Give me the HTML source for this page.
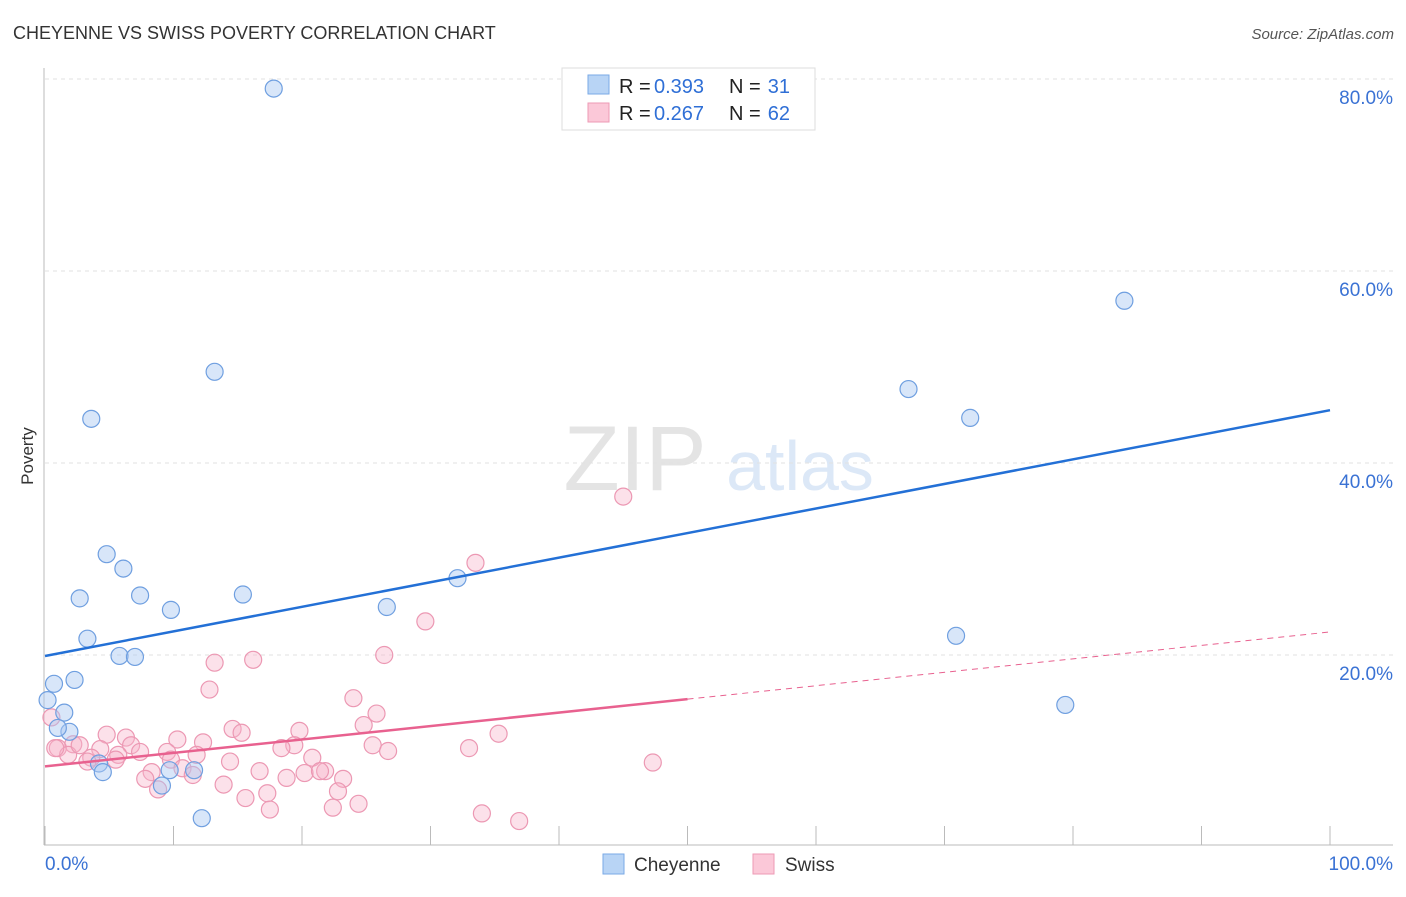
<!DOCTYPE html>
<html><head><meta charset="utf-8"><style>
body{margin:0;background:#fff;font-family:"Liberation Sans",sans-serif;}
svg text{font-family:"Liberation Sans",sans-serif;}
</style></head><body>
<svg id="chart" width="1406" height="892">
<text x="13" y="39" font-size="18" fill="#333">CHEYENNE VS SWISS POVERTY CORRELATION CHART</text>
<text x="1394" y="39" font-size="15" fill="#555" font-style="italic" text-anchor="end">Source: ZipAtlas.com</text>
<g>
<text x="635" y="490" font-size="92" fill="#e4e4e4" text-anchor="middle" font-family="Liberation Serif">ZIP</text>
<text x="800" y="490" font-size="70" fill="#dce8f7" text-anchor="middle">atlas</text>
</g>
<g id="grid"></g>
<g id="axes"></g>
<g id="marks"></g>
<text x="33" y="456" font-size="17" fill="#333" text-anchor="middle" transform="rotate(-90 33 456)">Poverty</text>
<g>
<rect x="562" y="68" width="253" height="62" fill="#fff" stroke="#ddd"/>
<rect x="588" y="75" width="21" height="19" fill="#b8d4f5" stroke="#7aaae6"/>
<rect x="588" y="103" width="21" height="19" fill="#fbc8d8" stroke="#ee9ab5"/>
<text x="619" y="93" font-size="20" fill="#222">R =</text>
<text x="654" y="93" font-size="20" fill="#2f6fd6">0.393</text>
<text x="729" y="93" font-size="20" fill="#222">N =</text>
<text x="790" y="93" font-size="20" fill="#2f6fd6" text-anchor="end">31</text>
<text x="619" y="120" font-size="20" fill="#222">R =</text>
<text x="654" y="120" font-size="20" fill="#2f6fd6">0.267</text>
<text x="729" y="120" font-size="20" fill="#222">N =</text>
<text x="790" y="120" font-size="20" fill="#2f6fd6" text-anchor="end">62</text>
</g>
<g>
<rect x="603" y="854" width="21" height="20" fill="#b8d4f5" stroke="#7aaae6"/>
<text x="634" y="871" font-size="19" fill="#333">Cheyenne</text>
<rect x="753" y="854" width="21" height="20" fill="#fbc8d8" stroke="#ee9ab5"/>
<text x="785" y="871" font-size="19" fill="#333">Swiss</text>
</g>
</svg>
<script>
const yTicks=[20,40,60,80];
const yTickLabels=["20.0%","40.0%","60.0%","80.0%"];
const xTicks=[0,10,20,30,40,50,60,70,80,90,100];
const xTickLabels=["0.0%","100.0%"];
const cheyenneX=[17.8,13.2,3.6,4.8,6.1,2.7,7.4,9.8,15.4,3.3,5.8,7.0,0.7,2.3,0.2,1.5,1.9,1.0,4.2,4.5,9.7,11.6,9.1,12.2,32.1,26.6,67.2,72.0,84.0,70.9,79.4];
const cheyenneY=[79.0,49.5,44.6,30.5,29.0,25.9,26.2,24.7,26.3,21.7,19.9,19.8,17.0,17.4,15.3,14.0,12.0,12.4,8.7,7.8,8.0,8.0,6.4,3.0,28.0,25.0,47.7,44.7,56.9,22.0,14.8];
const swissX=[45.0,33.5,29.6,26.4,16.2,13.2,12.8,24.0,25.8,24.8,19.8,14.6,15.3,35.3,25.5,26.7,33.0,19.4,18.4,47.3,4.8,6.3,10.3,12.3,2.2,6.7,1.0,4.3,7.4,9.5,5.7,11.8,1.8,3.6,5.5,9.8,3.3,14.4,20.8,10.7,16.7,20.2,21.8,21.4,8.3,11.5,18.8,7.8,23.2,13.9,8.8,17.3,22.8,15.6,24.4,22.4,17.5,34.0,36.9,0.5,0.8,2.7];
const swissY=[36.5,29.6,23.5,20.0,19.5,19.2,16.4,15.5,13.9,12.7,12.1,12.3,11.9,11.8,10.6,10.0,10.3,10.6,10.3,8.8,11.7,11.4,11.2,10.9,10.7,10.6,10.3,10.2,9.9,9.9,9.6,9.6,9.6,9.3,9.1,9.1,8.9,8.9,9.3,8.2,7.9,7.7,7.9,7.9,7.8,7.5,7.2,7.1,7.1,6.5,6.0,5.6,5.8,5.1,4.5,4.1,3.9,3.5,2.7,13.5,10.3,10.6];
const cheyenneTrend=[19.9,45.5];
const swissTrend=[8.4,22.4];
const swissSolidEnd=50;

const NS="http://www.w3.org/2000/svg";
const X=v=>45+v*12.85;
const Y=v=>847-v*9.6;
function mk(tag,attrs,parent){const e=document.createElementNS(NS,tag);for(const k in attrs)e.setAttribute(k,attrs[k]);parent.appendChild(e);return e;}
const grid=document.getElementById('grid'),axes=document.getElementById('axes'),marks=document.getElementById('marks');
yTicks.forEach((t,i)=>{
 const l=mk('line',{x1:45,x2:1393,y1:Y(t),y2:Y(t),stroke:'#e2e2e2','stroke-dasharray':'4,4'},grid);
 
 
 const tx=mk('text',{x:1393,y:Y(t)+25,'font-size':19,fill:'#3a72d4','text-anchor':'end'},axes);
 tx.textContent=yTickLabels[i];
 
 
});
const ya=mk('line',{x1:44,x2:44,y1:68,y2:845,stroke:'#bbb'},axes);


const xa=mk('line',{x1:44,x2:1393,y1:845,y2:845,stroke:'#bbb'},axes);


xTicks.forEach(t=>{
 const l=mk('line',{x1:X(t),x2:X(t),y1:826,y2:845,stroke:'#bbb'},axes);
 
 
});
const xl0=mk('text',{x:45,y:870,'font-size':19,fill:'#3a72d4'},axes);xl0.textContent=xTickLabels[0];


const xl1=mk('text',{x:1393,y:870,'font-size':19,fill:'#3a72d4','text-anchor':'end'},axes);xl1.textContent=xTickLabels[1];



swissX.forEach((x,i)=>{
 const c=mk('circle',{cx:X(x),cy:Y(swissY[i]),r:8.5,fill:'rgba(248,180,202,0.4)',stroke:'#ec98b3','stroke-width':1.2},marks);
 
 
});
cheyenneX.forEach((x,i)=>{
 const c=mk('circle',{cx:X(x),cy:Y(cheyenneY[i]),r:8.5,fill:'rgba(168,200,242,0.45)',stroke:'#6f9fe0','stroke-width':1.2},marks);
 
 
});
const sAt=x=>swissTrend[0]+(swissTrend[1]-swissTrend[0])*x/100;
const sl=mk('line',{x1:X(0),y1:Y(sAt(0)),x2:X(swissSolidEnd),y2:Y(sAt(swissSolidEnd)),stroke:'#e8618f','stroke-width':2.5},marks);


const sd=mk('line',{x1:X(swissSolidEnd),y1:Y(sAt(swissSolidEnd)),x2:X(100),y2:Y(sAt(100)),stroke:'#e8618f','stroke-width':1,'stroke-dasharray':'6,5'},marks);


const cl=mk('line',{x1:X(0),y1:Y(cheyenneTrend[0]),x2:X(100),y2:Y(cheyenneTrend[1]),stroke:'#2370d6','stroke-width':2.5},marks);


</script>
</body></html>
